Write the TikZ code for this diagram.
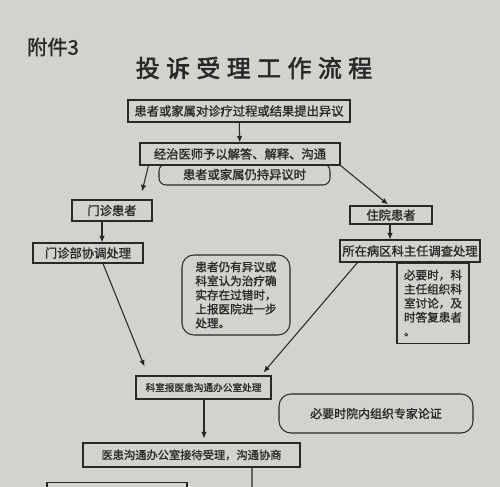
\documentclass[tikz,border=0pt]{standalone}
\usepackage{fontspec}
\setmainfont{Noto Sans CJK SC}[FakeBold=1.2]
\newfontfamily\headfont{Noto Sans CJK SC}[FakeBold=2.4,LetterSpace=27]
\usetikzlibrary{arrows.meta,positioning,calc}
\definecolor{paper}{RGB}{212,210,205}
\definecolor{ink}{RGB}{40,40,40}

\begin{document}
\begin{tikzpicture}[
  x=0.2mm, y=-0.2mm,
  font=\fontsize{7}{8.5}\selectfont,
  box/.style ={draw=ink,fill=paper,line width=0.6pt,inner sep=1pt,text=ink},
  rbox/.style={box,rounded corners=2.4mm},
  memo/.style={box,align=left,font=\fontsize{6.6}{8}\selectfont},
  lbl/.style ={text=ink,inner sep=0pt},
  link/.style={draw=ink,line width=0.6pt},
  >={Latex[length=1.3mm,width=1.1mm]}]

\useasboundingbox (0,0) rectangle (500,487);
\fill[paper] (0,0) rectangle (500,487);
\clip (0,0) rectangle (500,487);

%---------------- Heading ----------------
\node[lbl,font=\fontsize{11.5}{13}\selectfont] (annex) at (53,47) {附件3};
\node[lbl,font=\fontsize{13.6}{16}\headfont] (title) at (254,68) {投诉受理工作流程};

%---------------- Complaint and first answer ----------------
\node[box,minimum width=44.4mm,minimum height=4.4mm] (raise) at (239,111) {患者或家属对诊疗过程或结果提出异议};
\node[rbox,rounded corners=1.4mm,minimum width=34.2mm,minimum height=4.2mm] (still) at (244.5,174.5) {患者或家属仍持异议时};
\node[box,minimum width=40mm,minimum height=4.4mm] (doc) at (240,154) {经治医师予以解答、解释、沟通};
\draw[link,->] (raise) -- (doc);

%---------------- Outpatient branch ----------------
\node[box,minimum width=16mm,minimum height=4.2mm] (op) at (112,210.5) {门诊患者};
\node[box,minimum width=22mm,minimum height=4mm] (opdesk) at (88,253) {门诊部协调处理};
\draw[link,->] ($(doc.south west)+(9,0)$) -- ($(op.north)+(30,-8)$);
\draw[link,->] ($(op.south)+(-10,0)$) -- ($(opdesk.north)+(14,0)$);

%---------------- Inpatient branch ----------------
\node[box,minimum width=16.4mm,minimum height=3.6mm] (ip) at (391,215) {住院患者};
\node[box,minimum width=28mm,minimum height=4.4mm] (ward) at (410,251) {所在病区科主任调查处理};
\node[memo,minimum width=14.4mm,minimum height=16mm,below=0pt of ward.south,anchor=north,xshift=4.6mm] (wardnote)
  {必要时，科\\主任组织科\\室讨论，及\\时答复患者\\。};
\draw[link,->] (doc.south east) -- ($(ip.north)+(-3,-1)$);
\draw[link,->] ($(ip.south)+(-1,0)$) -- ($(ward.north)+(-20,0)$);

%---------------- Report to the office ----------------
\node[memo,rounded corners=2.4mm,minimum width=21.6mm,minimum height=16mm] (escal) at (236,295)
  {患者仍有异议或\\科室认为治疗确\\实存在过错时，\\上报医院进一步\\处理。};
\node[box,font=\fontsize{5.5}{6.5}\selectfont,minimum width=27mm,minimum height=4.6mm] (dept) at (203.5,387.5) {科室报医患沟通办公室处理};
\node[rbox,font=\fontsize{6.8}{8}\selectfont,minimum width=38.8mm,minimum height=7.8mm] (expert) at (376,413.5) {必要时院内组织专家论证};
\node[box,font=\fontsize{6.4}{7.5}\selectfont,minimum width=43.4mm,minimum height=4.8mm] (office) at (191.5,455) {医患沟通办公室接待受理，沟通协商};
\node[box,minimum width=28mm,minimum height=6mm,anchor=north] (next) at (117,482) {};
\coordinate (down) at (252,500);
\draw[link,->] ($(opdesk.south)+(15,0)$) -- ($(dept.north west)+(9,-9)$);
\draw[link,->] ($(ward.south west)+(18,0)$) -- ($(dept.north east)+(-8,-3)$);
\draw[link,->] ($(dept.south)+(0.5,0)$) -- ($(office.north)+(12.5,-4)$);
\draw[link] ($(office.south)+(60.5,0)$) -- (down);

\end{tikzpicture}
\end{document}
